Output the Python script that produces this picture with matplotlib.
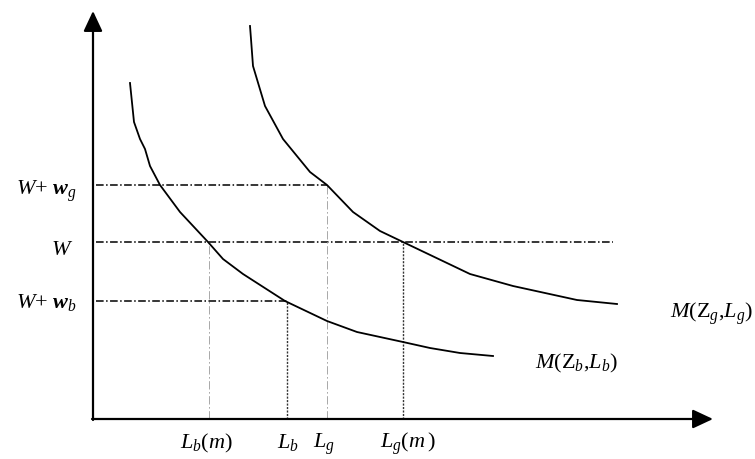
import matplotlib
matplotlib.use("Agg")
import matplotlib.pyplot as plt

plt.rcParams['font.family'] = ['Liberation Serif', 'DejaVu Serif']
plt.rcParams['mathtext.fontset'] = 'custom'
plt.rcParams['mathtext.rm'] = 'Liberation Serif'
plt.rcParams['mathtext.it'] = 'Liberation Serif:italic'
plt.rcParams['mathtext.bf'] = 'Liberation Serif:italic:bold'

# ---- data (conceptual units: x = L, y = wage) ----
curve_b_x = [37, 41, 47, 52, 57, 67, 87, 115, 130, 150, 192, 234, 264, 310, 337, 367, 400]
curve_b_y = [336, 297, 280, 270, 253, 234, 207, 177, 160, 145, 118, 98, 87, 77, 71, 66, 63]
curve_g_x = [157, 158, 160, 172, 190, 217, 234, 260, 287, 310, 377, 420, 484, 524]
curve_g_y = [393, 380, 353, 313, 280, 247, 234, 207, 188, 177, 145, 133, 119, 115]

level_names = [r'$W{+}\ \mathbf{w}_g$', r'$W$', r'$W{+}\ \mathbf{w}_b$']
level_values = [234, 177, 118]
level_ends = [234, 520, 194]

xtick_names = [r'$L_b(m)$', r'$L_b$', r'$L_g$', r'$L_g(m\,)$']
xtick_values = [116, 194, 234, 310]
xtick_tops = [177, 118, 234, 177]
xtick_styles = ['gray', 'dot', 'gray', 'dot']

curve_labels = [r'$M(\mathrm{Z}_g{,}L_g)$', r'$M(\mathrm{Z}_b{,}L_b)$']

# ---- figure ----
fig = plt.figure(figsize=(7.55, 4.6), dpi=100)
ax = fig.add_axes([0, 0, 1, 1])
ax.set_xlim(-93, 662)
ax.set_ylim(-40, 420)
ax.axis('off')

# axes with arrows
arrow = dict(arrowstyle='-|>,head_length=0.62,head_width=0.29', lw=1.6,
             color='black', shrinkA=0, shrinkB=0, mutation_scale=20)
ax.annotate('', xy=(620, 0), xytext=(-1, 0), arrowprops=arrow)
ax.annotate('', xy=(0, 408), xytext=(0, -1), arrowprops=arrow)

# horizontal dash-dot reference lines
for val, end in zip(level_values, level_ends):
    ax.plot([3, end], [val, val], color='black', lw=1.1,
            dashes=(5.0, 1.6, 1.0, 1.6))

# vertical reference lines
for xv, top, st in zip(xtick_values, xtick_tops, xtick_styles):
    if st == 'gray':
        ax.plot([xv, xv], [0, top], color='#9a9a9a', lw=0.6,
                dashes=(10, 3, 2, 3))
    else:
        ax.plot([xv, xv], [0, top], color='#333333', lw=1.0,
                dashes=(1.5, 1.0))

# curves
ax.plot(curve_b_x, curve_b_y, color='black', lw=1.3, solid_joinstyle='round')
ax.plot(curve_g_x, curve_g_y, color='black', lw=1.3, solid_joinstyle='round')

# labels
fs = 16
level_label_x = [-16, -20, -16]
level_label_base = [225, 165, 112]
for name, lx, ly in zip(level_names, level_label_x, level_label_base):
    ax.text(lx, ly, name, ha='right', va='baseline', fontsize=fs)

xtick_label_left = [87, 184, 220, 287]
for name, lx in zip(xtick_names, xtick_label_left):
    ax.text(lx, -28, name, ha='left', va='baseline', fontsize=fs)

ax.text(577, 102, curve_labels[0], ha='left', va='baseline', fontsize=fs)
ax.text(442, 52, curve_labels[1], ha='left', va='baseline', fontsize=fs)

fig.savefig('out.png', dpi=100)
